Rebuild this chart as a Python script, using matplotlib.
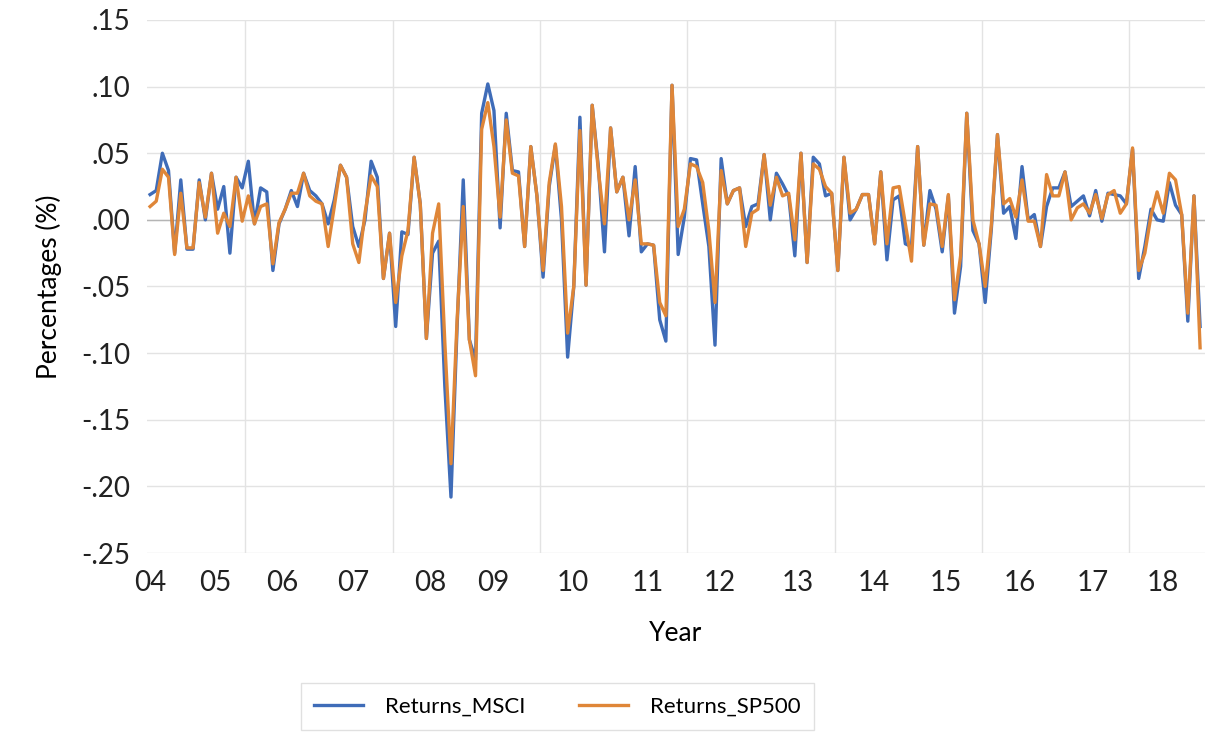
import numpy as np
import matplotlib
matplotlib.use("Agg")
import matplotlib.pyplot as plt

plt.rcParams['font.family'] = ['Lato', 'DejaVu Sans']

# monthly returns, Sep 2004 .. Dec 2018
returns_msci = [
    0.019, 0.022, 0.050, 0.037, -0.025, 0.030, -0.022, -0.022, 0.030, 0.000,
    0.035, 0.008, 0.025, -0.025, 0.032, 0.024, 0.044, -0.003, 0.024, 0.021,
    -0.038, -0.003, 0.008, 0.022, 0.010, 0.035, 0.022, 0.018, 0.012, -0.003,
    0.015, 0.041, 0.032, -0.005, -0.020, 0.000, 0.044, 0.032, -0.044, -0.010,
    -0.080, -0.009, -0.011, 0.047, 0.012, -0.089, -0.025, -0.016, -0.125, -0.208,
    -0.080, 0.030, -0.090, -0.105, 0.080, 0.102, 0.082, -0.006, 0.080, 0.037,
    0.036, -0.020, 0.055, 0.018, -0.043, 0.025, 0.056, 0.000, -0.103, -0.050,
    0.077, -0.049, 0.086, 0.040, -0.024, 0.069, 0.021, 0.032, -0.012, 0.040,
    -0.024, -0.018, -0.019, -0.075, -0.091, 0.101, -0.026, 0.002, 0.046, 0.045,
    0.012, -0.020, -0.094, 0.046, 0.012, 0.022, 0.024, -0.005, 0.010, 0.012,
    0.049, 0.000, 0.035, 0.027, 0.018, -0.027, 0.050, -0.032, 0.047, 0.042,
    0.018, 0.020, -0.038, 0.047, 0.000, 0.008, 0.019, 0.019, -0.018, 0.036,
    -0.030, 0.015, 0.018, -0.018, -0.020, 0.055, -0.019, 0.022, 0.008, -0.024,
    0.018, -0.070, -0.035, 0.080, -0.008, -0.018, -0.062, -0.007, 0.064, 0.005,
    0.010, -0.014, 0.040, 0.000, 0.004, -0.020, 0.010, 0.024, 0.024, 0.036,
    0.010, 0.014, 0.018, 0.003, 0.022, -0.001, 0.020, 0.019, 0.018, 0.012,
    0.053, -0.044, -0.020, 0.008, 0.000, -0.001, 0.028, 0.011, 0.004, -0.076,
    0.018, -0.080,
]
returns_sp500 = [
    0.010, 0.014, 0.038, 0.032, -0.026, 0.020, -0.021, -0.021, 0.028, 0.002,
    0.035, -0.010, 0.005, -0.005, 0.032, -0.001, 0.018, -0.003, 0.010, 0.012,
    -0.033, -0.002, 0.008, 0.020, 0.020, 0.035, 0.018, 0.014, 0.012, -0.020,
    0.010, 0.041, 0.032, -0.018, -0.032, 0.005, 0.033, 0.025, -0.044, -0.010,
    -0.062, -0.027, -0.008, 0.047, 0.012, -0.089, -0.010, 0.012, -0.092, -0.183,
    -0.075, 0.010, -0.090, -0.117, 0.068, 0.088, 0.055, 0.002, 0.075, 0.035,
    0.033, -0.020, 0.055, 0.018, -0.038, 0.028, 0.057, 0.010, -0.085, -0.050,
    0.067, -0.049, 0.086, 0.037, -0.003, 0.069, 0.021, 0.032, 0.000, 0.030,
    -0.018, -0.018, -0.019, -0.062, -0.072, 0.101, -0.005, 0.008, 0.042, 0.040,
    0.028, -0.008, -0.062, 0.037, 0.012, 0.022, 0.024, -0.020, 0.005, 0.008,
    0.049, 0.011, 0.032, 0.018, 0.020, -0.015, 0.050, -0.032, 0.042, 0.038,
    0.025, 0.020, -0.038, 0.047, 0.005, 0.008, 0.019, 0.019, -0.018, 0.036,
    -0.018, 0.024, 0.025, -0.003, -0.031, 0.055, -0.019, 0.012, 0.011, -0.020,
    0.019, -0.060, -0.027, 0.080, 0.000, -0.018, -0.050, -0.004, 0.064, 0.012,
    0.016, 0.002, 0.030, -0.001, -0.001, -0.020, 0.034, 0.018, 0.018, 0.036,
    0.000, 0.009, 0.012, 0.005, 0.019, 0.001, 0.019, 0.022, 0.005, 0.012,
    0.054, -0.038, -0.025, 0.003, 0.021, 0.005, 0.035, 0.030, 0.004, -0.070,
    0.018, -0.096,
]

year_labels = ['04', '05', '06', '07', '08', '09', '10', '11', '12', '13',
               '14', '15', '16', '17', '18']
year_label_pos = [0, 10.6, 21.6, 33.1, 45.6, 55.9, 68.9, 81.1, 92.8, 105.4,
                  117.8, 129.6, 141.7, 153.5, 165.0]

months = np.arange(len(returns_msci))

fig = plt.figure(figsize=(12.09, 7.40), dpi=100)
ax = fig.add_axes([0.1216, 0.2527, 0.8751, 0.7203])

# grid
for v in np.arange(15.5, len(months), 24):
    ax.axvline(v, color='#e3e3e3', lw=1, zorder=0)
for h in np.arange(-0.25, 0.16, 0.05):
    ax.axhline(h, color='#e3e3e3', lw=1, zorder=0)
ax.axhline(0, color='#b5b5b5', lw=1, zorder=0)

ax.plot(months, returns_msci, color='#3F6CB8', lw=2.4, label='Returns_MSCI', zorder=2)
ax.plot(months, returns_sp500, color='#DF8638', lw=2.4, label='Returns_SP500', zorder=3)

ax.set_xlim(-0.5, 171.8)
ax.set_ylim(-0.25, 0.15)
yt = np.arange(-0.25, 0.16, 0.05)
ax.set_yticks(yt)
ax.set_yticklabels([('%.2f' % v).replace('0.', '.') if abs(v) > 1e-9 else '.00' for v in yt])
ax.set_xticks(year_label_pos)
ax.set_xticklabels(year_labels)
ax.tick_params(length=0, labelsize=20, pad=12, colors='#222222')
for s in ax.spines.values():
    s.set_visible(False)

ax.set_xlabel('Year', fontsize=19, labelpad=18)
ax.set_ylabel('Percentages (%)', fontsize=19, labelpad=14)

fig.legend(loc='center', bbox_to_anchor=(0.461, 0.045), ncol=2, fontsize=16,
           frameon=True, fancybox=False, edgecolor='#d9d9d9',
           handlelength=2.2, handletextpad=1.0, columnspacing=2.4,
           borderpad=0.6, borderaxespad=0)

fig.savefig('out.png', dpi=100)
